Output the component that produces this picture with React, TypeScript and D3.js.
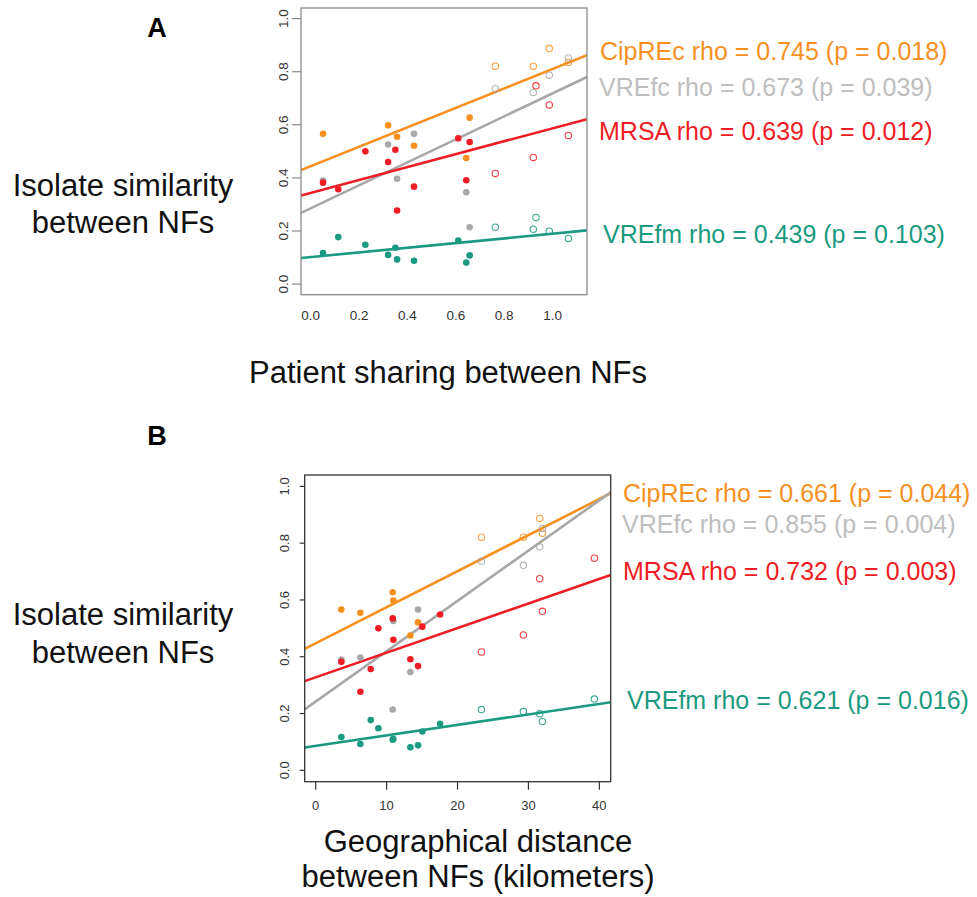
import React from "react";
import * as d3 from "d3";

// NF pairs: patient sharing (panel A) and geographical distance in km (panel B)
const patientSharing = [0.051, 0.114, 0.226, 0.32, 0.35, 0.357, 0.427, 0.61, 0.643, 0.657, 0.763, 0.92, 0.931, 0.986, 1.065];
const distanceKm = [3.62, 7.76, 8.84, 10.95, 15.04, 6.3, 14.43, 17.54, 13.35, 10.86, 23.37, 29.29, 39.3, 31.59, 31.97];
const openMarker = [false, false, false, false, false, false, false, false, false, false, true, true, true, true, true];

// isolate similarity per organism (null = no value for that pair)
const cipREc = [0.566, null, null, 0.598, null, 0.555, 0.521, null, 0.475, 0.627, 0.821, 0.821, null, 0.887, 0.835];
const vreFc = [0.39, null, null, 0.526, null, 0.397, 0.566, null, 0.346, 0.214, 0.736, 0.722, null, 0.787, 0.852];
const mrsa = [0.382, 0.357, 0.5, 0.46, 0.506, 0.277, 0.367, 0.549, 0.391, 0.535, 0.417, 0.477, 0.747, 0.675, 0.56];
const vreFm = [0.117, 0.177, 0.148, 0.11, 0.137, 0.093, 0.088, 0.164, 0.081, 0.108, 0.214, 0.207, 0.251, 0.199, 0.172];

const seriesNames = ["CipREc", "VREfc", "MRSA", "VREfm"];
const seriesValues = [cipREc, vreFc, mrsa, vreFm];
const seriesColors = ["#F7901E", "#A8A8A8", "#EE1D25", "#1A9A80"];
const labelColors = ["#F7901E", "#BEBEBE", "#EE1D25", "#1A9A80"];

const rhoA = ["0.745", "0.673", "0.639", "0.439"];
const pA = ["0.018", "0.039", "0.012", "0.103"];
const rhoB = ["0.661", "0.855", "0.732", "0.621"];
const pB = ["0.044", "0.004", "0.003", "0.016"];

const yTicks = [0, 0.2, 0.4, 0.6, 0.8, 1.0];
const xTicksA = [0, 0.2, 0.4, 0.6, 0.8, 1.0];
const xTicksB = [0, 10, 20, 30, 40];

const FONT = "'Liberation Sans', Arial, Helvetica, sans-serif";

// ordinary least squares, like R's lm/abline
function fit(xs: number[], ys: (number | null)[]) {
  const pts = xs.map((x, i) => [x, ys[i]]).filter(d => d[1] != null) as number[][];
  const mx = d3.mean(pts, d => d[0]) as number;
  const my = d3.mean(pts, d => d[1]) as number;
  const sxy = d3.sum(pts, d => (d[0] - mx) * (d[1] - my));
  const sxx = d3.sum(pts, d => (d[0] - mx) ** 2);
  const slope = sxy / sxx;
  return { slope, intercept: my - slope * mx };
}

type PanelProps = {
  id: string;
  xs: number[];
  xDomain: [number, number];
  xRange: [number, number];
  yRange: [number, number];
  xTicks: number[];
  xFmt: (v: number) => string;
  boxColor: string;
  xTickMarks: boolean;
  yTickLen: number;
  yLabelX: number;
  xLabelY: number;
  tickFont: number;
  rho: string[];
  p: string[];
  labelX: number[];
  labelY: number[];
};

const Panel = (props: PanelProps) => {
  const x = d3.scaleLinear().domain(props.xDomain).range(props.xRange);
  const y = d3.scaleLinear().domain([-0.04, 1.04]).range(props.yRange);
  const [x0, x1] = props.xRange;
  const [yb, yt] = props.yRange;

  return (
    <g>
      <defs>
        <clipPath id={`clip-${props.id}`}>
          <rect x={x0} y={yt} width={x1 - x0} height={yb - yt} />
        </clipPath>
      </defs>
      <g clipPath={`url(#clip-${props.id})`}>
        {seriesValues.map((vals, si) => {
          const f = fit(props.xs, vals);
          const [d0, d1] = props.xDomain;
          return (
            <line
              key={`l${si}`}
              x1={x(d0)}
              y1={y(f.intercept + f.slope * d0)}
              x2={x(d1)}
              y2={y(f.intercept + f.slope * d1)}
              stroke={seriesColors[si]}
              strokeWidth={2.6}
            />
          );
        })}
      </g>
      {seriesValues.map((vals, si) =>
        vals.map((v, i) =>
          v == null ? null : openMarker[i] ? (
            <circle
              key={`p${si}-${i}`}
              cx={x(props.xs[i])}
              cy={y(v)}
              r={3.2}
              fill="none"
              stroke={seriesColors[si]}
              strokeOpacity={0.85}
              strokeWidth={1.1}
            />
          ) : (
            <circle key={`p${si}-${i}`} cx={x(props.xs[i])} cy={y(v)} r={3.3} fill={seriesColors[si]} />
          )
        )
      )}
      <rect x={x0} y={yt} width={x1 - x0} height={yb - yt} fill="none" stroke={props.boxColor} strokeWidth={1.3} />
      {yTicks.map(t => (
        <g key={`yt${t}`}>
          <line x1={x0 - props.yTickLen} x2={x0} y1={y(t)} y2={y(t)} stroke={props.boxColor} strokeWidth={1.2} />
          <text
            transform={`translate(${props.yLabelX},${y(t)}) rotate(-90)`}
            textAnchor="middle"
            fontSize={props.tickFont}
            fill="#333"
            fontFamily={FONT}
          >
            {t.toFixed(1)}
          </text>
        </g>
      ))}
      {props.xTicks.map(t => (
        <g key={`xt${t}`}>
          {props.xTickMarks && (
            <line x1={x(t)} x2={x(t)} y1={yb} y2={yb + 8} stroke={props.boxColor} strokeWidth={1.2} />
          )}
          <text x={x(t)} y={props.xLabelY} textAnchor="middle" fontSize={props.tickFont} fill="#333" fontFamily={FONT}>
            {props.xFmt(t)}
          </text>
        </g>
      ))}
      {seriesNames.map((name, si) => (
        <text
          key={`lab${si}`}
          x={props.labelX[si]}
          y={props.labelY[si]}
          fontSize={25}
          fill={labelColors[si]}
          fontFamily={FONT}
        >
          {`${name} rho = ${props.rho[si]} (p = ${props.p[si]})`}
        </text>
      ))}
    </g>
  );
};

const App = () => {
  const W = 977;
  const H = 897;
  return (
    <svg
      width={W}
      height={H}
      style={{ position: "absolute", left: 0, top: 0, background: "#fff" }}
      fontFamily={FONT}
    >
      <text x={157} y={37} textAnchor="middle" fontSize={27} fontWeight="bold" fill="#000">A</text>
      <text x={157} y={445} textAnchor="middle" fontSize={27} fontWeight="bold" fill="#000">B</text>

      <g fontSize={31} fill="#111" textAnchor="middle">
        <text x={123} y={196}>Isolate similarity</text>
        <text x={123} y={233}>between NFs</text>
        <text x={448} y={383}>Patient sharing between NFs</text>
        <text x={123} y={625}>Isolate similarity</text>
        <text x={123} y={663}>between NFs</text>
        <text x={478} y={852}>Geographical distance</text>
        <text x={478} y={887}>between NFs (kilometers)</text>
      </g>

      <Panel
        id="a"
        xs={patientSharing}
        xDomain={[-0.04, 1.142]}
        xRange={[301, 587]}
        yRange={[294.7, 8]}
        xTicks={xTicksA}
        xFmt={v => v.toFixed(1)}
        boxColor="#8a8a8a"
        xTickMarks={false}
        yTickLen={9}
        yLabelX={287.5}
        xLabelY={320}
        tickFont={13.5}
        rho={rhoA}
        p={pA}
        labelX={[600, 599, 599, 603]}
        labelY={[60, 96, 140, 243]}
      />
      <Panel
        id="b"
        xs={distanceKm}
        xDomain={[-1.55, 41.6]}
        xRange={[304.7, 610.7]}
        yRange={[781.7, 475]}
        xTicks={xTicksB}
        xFmt={v => String(v)}
        boxColor="#333"
        xTickMarks={true}
        yTickLen={5}
        yLabelX={289}
        xLabelY={810}
        tickFont={13}
        rho={rhoB}
        p={pB}
        labelX={[623, 622, 623, 627]}
        labelY={[502, 533, 580, 709]}
      />
    </svg>
  );
};

export default App;
